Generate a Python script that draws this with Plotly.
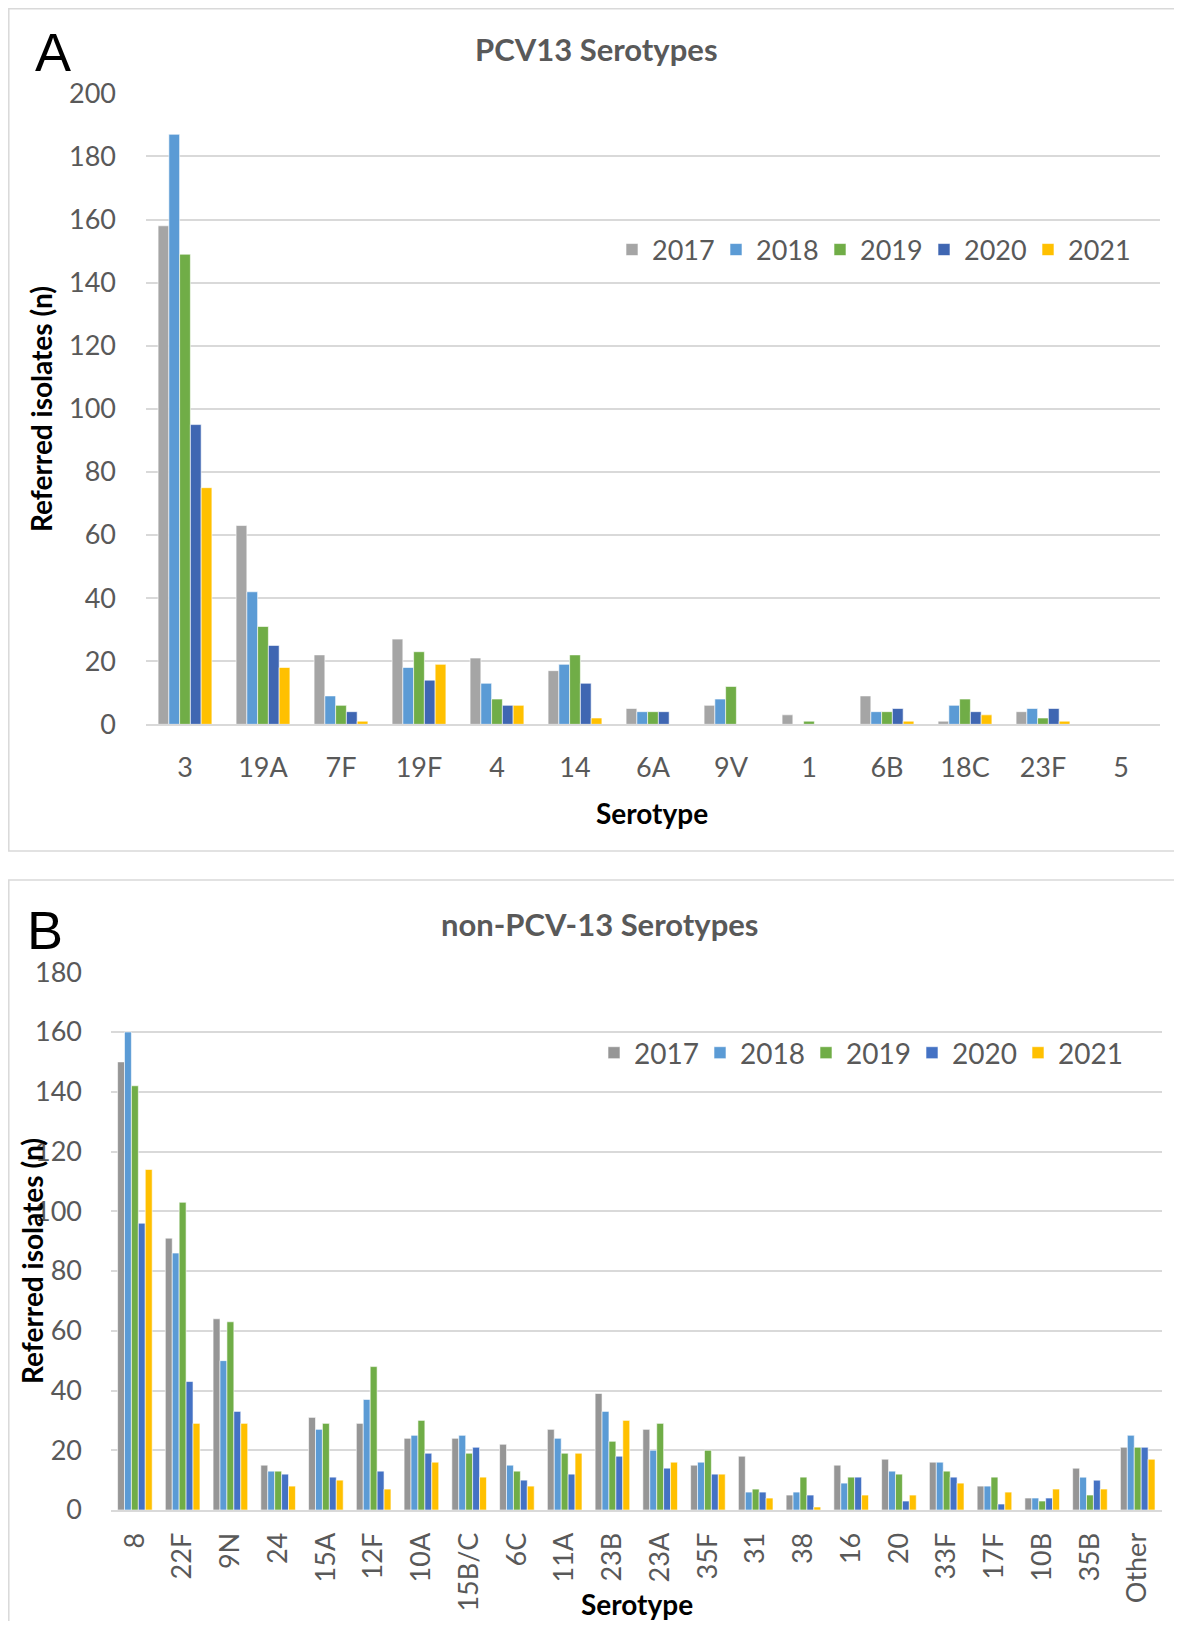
import plotly.graph_objects as go

# page body has an 8px margin; figure sized to fill the 1182x1629 window exactly
OFF = 8
W, H = 1182 - 2 * OFF, 1629 - 2 * OFF

years = ["2017", "2018", "2019", "2020", "2021"]

# Panel A - PCV13 serotypes
pcv13_serotypes = ["3", "19A", "7F", "19F", "4", "14", "6A", "9V", "1", "6B", "18C", "23F", "5"]
pcv13_2017 = [158, 63, 22, 27, 21, 17, 5, 6, 3, 9, 1, 4, 0]
pcv13_2018 = [187, 42, 9, 18, 13, 19, 4, 8, 0, 4, 6, 5, 0]
pcv13_2019 = [149, 31, 6, 23, 8, 22, 4, 12, 1, 4, 8, 2, 0]
pcv13_2020 = [95, 25, 4, 14, 6, 13, 4, 0, 0, 5, 4, 5, 0]
pcv13_2021 = [75, 18, 1, 19, 6, 2, 0, 0, 0, 1, 3, 1, 0]

# Panel B - non-PCV13 serotypes
non_serotypes = ["8", "22F", "9N", "24", "15A", "12F", "10A", "15B/C", "6C", "11A", "23B",
                 "23A", "35F", "31", "38", "16", "20", "33F", "17F", "10B", "35B", "Other"]
non_2017 = [150, 91, 64, 15, 31, 29, 24, 24, 22, 27, 39, 27, 15, 18, 5, 15, 17, 16, 8, 4, 14, 21]
non_2018 = [160, 86, 50, 13, 27, 37, 25, 25, 15, 24, 33, 20, 16, 6, 6, 9, 13, 16, 8, 4, 11, 25]
non_2019 = [142, 103, 63, 13, 29, 48, 30, 19, 13, 19, 23, 29, 20, 7, 11, 11, 12, 13, 11, 3, 5, 21]
non_2020 = [96, 43, 33, 12, 11, 13, 19, 21, 10, 12, 18, 14, 12, 6, 5, 11, 3, 11, 2, 4, 10, 21]
non_2021 = [114, 29, 29, 8, 10, 7, 16, 11, 8, 19, 30, 16, 12, 4, 1, 5, 5, 9, 6, 7, 7, 17]

pcv13_values = [pcv13_2017, pcv13_2018, pcv13_2019, pcv13_2020, pcv13_2021]
non_values = [non_2017, non_2018, non_2019, non_2020, non_2021]

colors_a = ["#A5A5A5", "#5B9BD5", "#70AD47", "#3F66B2", "#FFC000"]
colors_b = ["#969696", "#5B9BD5", "#70AD47", "#4472C4", "#FFC000"]

FONT = "Lato"
GREY_TXT = "#595959"
GRID = "#D9D9D9"


def px_x(x):
    return (x - OFF) / W


def px_y(y):
    return 1 - (y - OFF) / H


fig = go.Figure()

for yr, vals, col in zip(years, pcv13_values, colors_a):
    fig.add_trace(go.Bar(
        x=pcv13_serotypes, y=vals, name=yr, marker_color=col,
        marker_line=dict(color="white", width=0.6),
        xaxis="x", yaxis="y", legend="legend"))

group_b = 0.725
bw = group_b / len(years)
for i, (yr, vals, col) in enumerate(zip(years, non_values, colors_b)):
    fig.add_trace(go.Bar(
        x=non_serotypes, y=vals, name=yr, marker_color=col,
        marker_line=dict(color="white", width=0.6),
        width=bw, offset=-group_b / 2 + i * bw,
        xaxis="x2", yaxis="y2", legend="legend2"))

tickfont = dict(family=FONT, size=27, color=GREY_TXT)

fig.update_layout(
    width=W, height=H, autosize=False,
    margin=dict(l=0, r=0, t=0, b=0, autoexpand=False),
    paper_bgcolor="white", plot_bgcolor="white",
    barmode="group", bargap=0.31, bargroupgap=0,
    xaxis=dict(domain=[px_x(146), px_x(1160)], anchor="y", type="category",
               showgrid=False, showline=True, linecolor=GRID, linewidth=2,
               tickfont=tickfont, ticks="", ticklabelstandoff=18, automargin=False),
    yaxis=dict(domain=[px_y(724.3), px_y(93.3)], anchor="x", range=[0, 200],
               dtick=20, showgrid=True, gridcolor=GRID, gridwidth=1.5,
               zeroline=False, showline=False, tickfont=tickfont, ticks="",
               ticklabelstandoff=29, automargin=False),
    xaxis2=dict(domain=[px_x(111), px_x(1161.6)], anchor="y2", type="category",
                showgrid=False, showline=True, linecolor=GRID, linewidth=2,
                tickfont=tickfont, tickangle=-90, ticks="", ticklabelstandoff=10,
                automargin=False),
    yaxis2=dict(domain=[px_y(1510), px_y(972.25)], anchor="x2", range=[0, 180],
                dtick=20, showgrid=True, gridcolor=GRID, gridwidth=1.5,
                zeroline=False, showline=False, tickfont=tickfont, ticks="",
                ticklabelstandoff=28, automargin=False),
    legend=dict(orientation="h", x=px_x(612), y=px_y(250), xanchor="left", yanchor="middle",
                font=tickfont, itemwidth=30, bgcolor="rgba(0,0,0,0)",
                entrywidth=59, entrywidthmode="pixels", traceorder="normal"),
    legend2=dict(orientation="h", x=px_x(594), y=px_y(1053), xanchor="left", yanchor="middle",
                 font=dict(family=FONT, size=28, color=GREY_TXT), itemwidth=30,
                 bgcolor="rgba(0,0,0,0)",
                 entrywidth=61, entrywidthmode="pixels", traceorder="normal"),
    showlegend=True,
)

# panel frames
fig.add_shape(type="rect", xref="paper", yref="paper",
              x0=px_x(8.8), x1=px_x(1200), y0=px_y(851), y1=px_y(8.8),
              line=dict(color=GRID, width=1.5), fillcolor="rgba(0,0,0,0)", layer="below")
fig.add_shape(type="rect", xref="paper", yref="paper",
              x0=px_x(8.8), x1=px_x(1200), y0=px_y(1660), y1=px_y(880),
              line=dict(color=GRID, width=1.5), fillcolor="rgba(0,0,0,0)", layer="below")

ann = []
# panel letters
ann.append(dict(text="A", x=px_x(53), y=px_y(52), font=dict(family="Liberation Sans", size=54, color="black")))
ann.append(dict(text="B", x=px_x(45), y=px_y(930), font=dict(family="Liberation Sans", size=54, color="black")))
# titles
ann.append(dict(text="<b>PCV13 Serotypes</b>", x=px_x(596), y=px_y(49),
                font=dict(family=FONT, size=31, color=GREY_TXT)))
ann.append(dict(text="<b>non-PCV-13 Serotypes</b>", x=px_x(599), y=px_y(924),
                font=dict(family=FONT, size=31, color=GREY_TXT)))
# axis titles
ann.append(dict(text="<b>Serotype</b>", x=px_x(652), y=px_y(813),
                font=dict(family=FONT, size=28, color="black")))
ann.append(dict(text="<b>Serotype</b>", x=px_x(637), y=px_y(1604),
                font=dict(family=FONT, size=28, color="black")))
ann.append(dict(text="<b>Referred isolates (n)</b>", x=px_x(41), y=px_y(409), textangle=-90,
                font=dict(family=FONT, size=28, color="black")))
ann.append(dict(text="<b>Referred isolates (n)</b>", x=px_x(32), y=px_y(1261), textangle=-90,
                font=dict(family=FONT, size=28, color="black")))

for a in ann:
    a.update(xref="paper", yref="paper", showarrow=False, xanchor="center", yanchor="middle")
fig.update_layout(annotations=ann)

fig.write_html("out.html")
